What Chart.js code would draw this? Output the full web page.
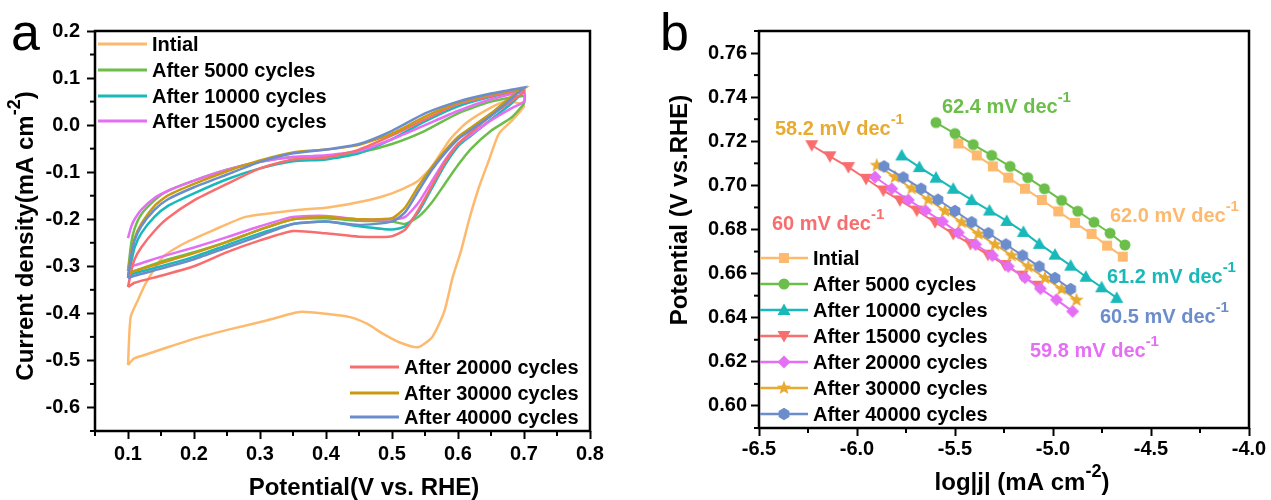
<!DOCTYPE html>
<html>
<head>
<meta charset="utf-8">
<script src="https://cdn.jsdelivr.net/npm/chart.js@4.4.1/dist/chart.umd.min.js"></script>
<style>
  body { margin: 0; background: #fff; }
  #wrap { position: relative; width: 1271px; height: 500px; overflow: hidden; }
  canvas { position: absolute; top: 0; }
  #cvChart { left: 0; }
  #tafelChart { left: 635px; }
</style>
</head>
<body>
<div id="wrap">
  <canvas id="cvChart" width="635" height="500"></canvas>
  <canvas id="tafelChart" width="636" height="500"></canvas>
</div>
<script>
// ---- data ----
const seriesLabels = ['Intial', 'After 5000 cycles', 'After 10000 cycles', 'After 15000 cycles',
    'After 20000 cycles', 'After 30000 cycles', 'After 40000 cycles'];

// panel a: tick labels
const aXTicks = [0.1, 0.2, 0.3, 0.4, 0.5, 0.6, 0.7, 0.8];
const aXMinor = [0.05, 0.15, 0.25, 0.35, 0.45, 0.55, 0.65, 0.75];
const aYTicks = [0.2, 0.1, 0.0, -0.1, -0.2, -0.3, -0.4, -0.5, -0.6];
const aYMinor = [0.15, 0.05, -0.05, -0.15, -0.25, -0.35, -0.45, -0.55, -0.65];

// panel a: CV curves (potential V, current mA cm-2)
const cvInitialV = [0.1, 0.109, 0.124, 0.16, 0.21, 0.26, 0.31, 0.36, 0.40, 0.436, 0.462, 0.486, 0.512, 0.539,
    0.561, 0.579, 0.592, 0.605, 0.617, 0.632, 0.647, 0.662, 0.682, 0.7, 0.697, 0.672, 0.647, 0.612, 0.587,
    0.56, 0.537, 0.5, 0.462, 0.403, 0.36, 0.328, 0.278, 0.228, 0.187, 0.153, 0.127, 0.115, 0.104, 0.1];
const cvInitialI = [-0.51, -0.496, -0.489, -0.472, -0.45, -0.432, -0.415, -0.397, -0.401, -0.408, -0.422, -0.443,
    -0.462, -0.472, -0.45, -0.397, -0.323, -0.265, -0.2, -0.131, -0.074, -0.018, 0.01, 0.04, 0.045, 0.05, 0.035,
    0.004, -0.032, -0.089, -0.121, -0.145, -0.16, -0.175, -0.18, -0.185, -0.195, -0.224, -0.25, -0.28, -0.336,
    -0.372, -0.408, -0.51];

const cvUpperV = [0.1, 0.105, 0.11, 0.12, 0.14, 0.16, 0.2, 0.25, 0.3, 0.35, 0.4, 0.45, 0.5, 0.55, 0.6, 0.65, 0.7];
const cvLowerV = [0.7, 0.68, 0.65, 0.62, 0.6, 0.58, 0.56, 0.54, 0.52, 0.5, 0.45, 0.4, 0.35, 0.3, 0.25, 0.2, 0.15, 0.11, 0.1];

const cv5000Up = [-0.31, -0.25, -0.22, -0.19, -0.16, -0.14, -0.118, -0.095, -0.078, -0.068, -0.066, -0.058, -0.04, -0.012, 0.025, 0.05, 0.062];
const cv5000Down = [0.046, 0.015, -0.012, -0.05, -0.085, -0.125, -0.165, -0.195, -0.21, -0.205, -0.203, -0.198, -0.2, -0.222, -0.248, -0.27, -0.29, -0.31, -0.315];
const cv10000Up = [-0.32, -0.29, -0.26, -0.23, -0.195, -0.172, -0.145, -0.115, -0.092, -0.077, -0.073, -0.06, -0.03, 0.008, 0.04, 0.06, 0.075];
const cv10000Down = [0.072, 0.045, 0.012, -0.022, -0.045, -0.085, -0.135, -0.185, -0.215, -0.222, -0.215, -0.205, -0.21, -0.23, -0.255, -0.28, -0.3, -0.315, -0.32];
const cv15000Up = [-0.24, -0.215, -0.2, -0.18, -0.155, -0.14, -0.118, -0.095, -0.078, -0.068, -0.064, -0.055, -0.03, 0.0, 0.03, 0.055, 0.07];
const cv15000Down = [0.05, 0.035, 0.01, -0.02, -0.04, -0.075, -0.12, -0.165, -0.195, -0.2, -0.2, -0.193, -0.195, -0.215, -0.238, -0.26, -0.28, -0.298, -0.3];
const cv20000Up = [-0.344, -0.31, -0.285, -0.26, -0.225, -0.198, -0.16, -0.125, -0.092, -0.073, -0.069, -0.052, -0.022, 0.012, 0.045, 0.062, 0.075];
const cv20000Down = [0.07, 0.05, 0.02, -0.015, -0.04, -0.08, -0.13, -0.18, -0.222, -0.236, -0.237, -0.23, -0.225, -0.245, -0.27, -0.3, -0.32, -0.335, -0.344];
const cv30000Up = [-0.31, -0.27, -0.24, -0.21, -0.172, -0.15, -0.125, -0.098, -0.075, -0.058, -0.052, -0.042, -0.018, 0.018, 0.048, 0.065, 0.078];
const cv30000Down = [0.078, 0.06, 0.025, -0.005, -0.025, -0.055, -0.09, -0.13, -0.175, -0.198, -0.2, -0.195, -0.2, -0.222, -0.248, -0.272, -0.293, -0.31, -0.315];
const cv40000Up = [-0.325, -0.275, -0.245, -0.215, -0.18, -0.158, -0.132, -0.105, -0.078, -0.06, -0.052, -0.04, -0.012, 0.025, 0.05, 0.067, 0.08];
const cv40000Down = [0.08, 0.055, 0.02, -0.01, -0.03, -0.06, -0.096, -0.14, -0.185, -0.205, -0.212, -0.205, -0.21, -0.235, -0.26, -0.285, -0.305, -0.32, -0.325];

// panel b: tick labels
const bXTicks = [-6.5, -6.0, -5.5, -5.0, -4.5, -4.0];
const bXMinor = [-6.25, -5.75, -5.25, -4.75, -4.25];
const bYTicks = [0.60, 0.62, 0.64, 0.66, 0.68, 0.70, 0.72, 0.74, 0.76];
const bYMinor = [0.59, 0.61, 0.63, 0.65, 0.67, 0.69, 0.71, 0.73, 0.75, 0.77];

// panel b: Tafel plots (log|j|, potential V)
const tafelInitialX = [-5.483, -5.389, -5.307, -5.228, -5.143, -5.057, -4.973, -4.888, -4.803, -4.724, -4.644];
const tafelInitialY = [0.7190, 0.7136, 0.7086, 0.7035, 0.6985, 0.6934, 0.6882, 0.6830, 0.6780, 0.6727, 0.6677];
const tafel5000X = [-5.597, -5.500, -5.407, -5.313, -5.219, -5.129, -5.044, -4.956, -4.874, -4.791, -4.709, -4.633];
const tafel5000Y = [0.7285, 0.7235, 0.7185, 0.7136, 0.7086, 0.7035, 0.6985, 0.6932, 0.6883, 0.6833, 0.6783, 0.6730];
const tafel10000X = [-5.772, -5.682, -5.597, -5.509, -5.415, -5.324, -5.236, -5.151, -5.070, -4.990, -4.910, -4.832, -4.752, -4.675];
const tafel10000Y = [0.7136, 0.7083, 0.7035, 0.6985, 0.6934, 0.6886, 0.6839, 0.6789, 0.6735, 0.6686, 0.6636, 0.6586, 0.6538, 0.6490];
const tafel15000X = [-6.231, -6.138, -6.044, -5.954, -5.866, -5.781, -5.695, -5.602, -5.509, -5.421, -5.332, -5.245, -5.158, -5.077];
const tafel15000Y = [0.7182, 0.7132, 0.7083, 0.7030, 0.6977, 0.6932, 0.6886, 0.6833, 0.6780, 0.6734, 0.6686, 0.6639, 0.6591, 0.6545];
const tafel20000X = [-5.908, -5.823, -5.738, -5.651, -5.564, -5.483, -5.395, -5.309, -5.228, -5.143, -5.064, -4.982, -4.900];
const tafel20000Y = [0.7038, 0.6985, 0.6934, 0.6886, 0.6836, 0.6786, 0.6732, 0.6682, 0.6633, 0.6582, 0.6532, 0.6482, 0.6429];
const tafel30000X = [-5.899, -5.806, -5.721, -5.636, -5.551, -5.466, -5.381, -5.296, -5.211, -5.126, -5.041, -4.956, -4.880];
const tafel30000Y = [0.7091, 0.7038, 0.6986, 0.6936, 0.6884, 0.6833, 0.6780, 0.6732, 0.6682, 0.6632, 0.6580, 0.6530, 0.6480];
const tafel40000X = [-5.862, -5.764, -5.673, -5.587, -5.500, -5.415, -5.330, -5.240, -5.155, -5.070, -4.990, -4.910];
const tafel40000Y = [0.7086, 0.7036, 0.6985, 0.6935, 0.6884, 0.6833, 0.6783, 0.6732, 0.6682, 0.6632, 0.6580, 0.6530];

const tafelSlopes = ['62.0', '62.4', '61.2', '60', '59.8', '58.2', '60.5'];

// ---- styles ----
const FONT = '"Liberation Sans", Arial, sans-serif';
const colorsA = ['#FDBA6E', '#6BBE4A', '#19B9BA', '#E46EF4', '#F86E6E', '#C99A0E', '#6C8DCB'];
const colorsB = ['#FDBA6E', '#6BBE4A', '#19B9BA', '#F86E6E', '#E46EF4', '#E8AA30', '#6C8DCB'];
const markerShapes = ['square', 'circle', 'triUp', 'triDown', 'diamond', 'star', 'hex'];

function toXY(xs, ys) {
    return xs.map((x, i) => ({ x: x, y: ys[i] }));
}

function loop(up, down) {
    return toXY(cvUpperV, up).concat(toXY(cvLowerV, down));
}

function makeMarker(shape, color) {
    const c = document.createElement('canvas');
    c.width = 18; c.height = 18;
    const g = c.getContext('2d');
    g.fillStyle = color;
    g.translate(9, 9);
    g.beginPath();
    if (shape === 'square') g.rect(-5, -5, 10, 10);
    else if (shape === 'circle') g.arc(0, 0, 5.5, 0, Math.PI * 2);
    else if (shape === 'triUp') { g.moveTo(0, -6.5); g.lineTo(6.5, 5); g.lineTo(-6.5, 5); }
    else if (shape === 'triDown') { g.moveTo(0, 6.5); g.lineTo(6.5, -5); g.lineTo(-6.5, -5); }
    else if (shape === 'diamond') { g.moveTo(0, -6.5); g.lineTo(6.5, 0); g.lineTo(0, 6.5); g.lineTo(-6.5, 0); }
    else if (shape === 'star') {
        for (let k = 0; k < 10; k++) {
            const r = k % 2 ? 3.2 : 7.5;
            const a = -Math.PI / 2 + k * Math.PI / 5;
            g.lineTo(r * Math.cos(a), r * Math.sin(a));
        }
    } else if (shape === 'hex') {
        for (let k = 0; k < 6; k++) {
            const a = Math.PI / 6 + k * Math.PI / 3;
            g.lineTo(6.2 * Math.cos(a), 6.2 * Math.sin(a));
        }
    }
    g.closePath();
    g.fill();
    return c;
}
const markers = markerShapes.map((s, i) => makeMarker(s, colorsB[i]));

// text with superscripts, parts = [[text, isSup], ...]
function richText(ctx, parts, x, y, size, color, align) {
    const main = 'bold ' + size + 'px ' + FONT;
    const sup = 'bold ' + Math.round(size * 0.76) + 'px ' + FONT;
    let w = 0;
    parts.forEach(p => { ctx.font = p[1] ? sup : main; w += ctx.measureText(p[0]).width; });
    let cx = align === 'center' ? x - w / 2 : x;
    ctx.fillStyle = color;
    ctx.textAlign = 'left';
    ctx.textBaseline = 'alphabetic';
    parts.forEach(p => {
        ctx.font = p[1] ? sup : main;
        ctx.fillText(p[0], cx, p[1] ? y - size * 0.55 : y);
        cx += ctx.measureText(p[0]).width;
    });
}

function frameAndMinor(chart, xMinor, yMinor) {
    const ctx = chart.ctx;
    const a = chart.chartArea;
    ctx.save();
    ctx.strokeStyle = '#000';
    ctx.lineWidth = 2;
    xMinor.forEach(v => {
        const px = chart.scales.x.getPixelForValue(v);
        ctx.beginPath(); ctx.moveTo(px, a.bottom); ctx.lineTo(px, a.bottom + 5); ctx.stroke();
    });
    yMinor.forEach(v => {
        const py = chart.scales.y.getPixelForValue(v);
        ctx.beginPath(); ctx.moveTo(a.left, py); ctx.lineTo(a.left - 5, py); ctx.stroke();
    });
    ctx.lineWidth = 2.5;
    ctx.strokeRect(a.left, a.top, a.right - a.left, a.bottom - a.top);
    ctx.restore();
}

function scaleOpts(min, max, ticks, digits, pad, size) {
    return {
        type: 'linear', min: min, max: max,
        afterBuildTicks: s => { s.ticks = ticks.map(v => ({ value: v })); },
        afterFit: s => { if (s.isHorizontal()) s.height = size; else s.width = size; },
        ticks: { callback: v => v.toFixed(digits), color: '#000', padding: pad,
                 font: { family: FONT, size: 20, weight: 'bold' }, maxRotation: 0 },
        grid: { drawOnChartArea: false, drawTicks: true, tickLength: 8, tickWidth: 2, tickColor: '#000' },
        border: { display: false }
    };
}

// ---- panel a ----
const cvData = [toXY(cvInitialV, cvInitialI), loop(cv5000Up, cv5000Down), loop(cv10000Up, cv10000Down),
    loop(cv15000Up, cv15000Down), loop(cv20000Up, cv20000Down), loop(cv30000Up, cv30000Down),
    loop(cv40000Up, cv40000Down)];

const cvExtras = {
    id: 'cvExtras',
    afterDraw(chart) {
        const ctx = chart.ctx;
        frameAndMinor(chart, aXMinor, aYMinor);
        ctx.save();
        // legends
        const rows = [[0, 44], [1, 70], [2, 96], [3, 121]];
        const rows2 = [[4, 367], [5, 393], [6, 417]];
        [[rows, 98], [rows2, 350]].forEach(([list, x0]) => {
            list.forEach(([i, y]) => {
                ctx.strokeStyle = colorsA[i]; ctx.lineWidth = 3;
                ctx.beginPath(); ctx.moveTo(x0, y); ctx.lineTo(x0 + 49, y); ctx.stroke();
                ctx.fillStyle = '#000'; ctx.font = 'bold 20px ' + FONT;
                ctx.textAlign = 'left'; ctx.textBaseline = 'middle';
                ctx.fillText(seriesLabels[i], x0 + 54, y + 1);
            });
        });
        // axis titles
        richText(ctx, [['Potential(V vs. RHE)', false]], 364, 495, 24, '#000', 'center');
        ctx.translate(33, 236);
        ctx.rotate(-Math.PI / 2);
        richText(ctx, [['Current density(mA cm', false], ['-2', true], [')', false]], 0, 0, 24, '#000', 'center');
        ctx.restore();
        ctx.save();
        ctx.fillStyle = '#000'; ctx.font = '52px ' + FONT;
        ctx.textAlign = 'left'; ctx.textBaseline = 'alphabetic';
        ctx.fillText('a', 11, 50);
        ctx.restore();
    }
};

new Chart(document.getElementById('cvChart'), {
    type: 'scatter',
    data: {
        datasets: cvData.map((d, i) => ({
            label: seriesLabels[i], data: d, showLine: true, pointRadius: 0,
            borderColor: colorsA[i], borderWidth: 2.5, tension: 0.2, order: 7 - i
        }))
    },
    options: {
        responsive: false, animation: false, events: [],
        layout: { padding: { left: 0, top: 31, right: 45, bottom: 0 } },
        plugins: { legend: { display: false }, tooltip: { enabled: false } },
        scales: {
            x: scaleOpts(0.05, 0.8, aXTicks, 1, 3, 69),
            y: scaleOpts(-0.65, 0.2, aYTicks, 1, 7, 95)
        }
    },
    plugins: [cvExtras]
});

// ---- panel b ----
const tafelData = [toXY(tafelInitialX, tafelInitialY), toXY(tafel5000X, tafel5000Y), toXY(tafel10000X, tafel10000Y),
    toXY(tafel15000X, tafel15000Y), toXY(tafel20000X, tafel20000Y), toXY(tafel30000X, tafel30000Y),
    toXY(tafel40000X, tafel40000Y)];

// slope label anchors in canvas pixels (left, baseline)
const slopeSpots = [[475, 222], [307, 113], [472, 283], [137, 230], [395, 357], [140, 135], [465, 323]];

const tafelExtras = {
    id: 'tafelExtras',
    afterDraw(chart) {
        const ctx = chart.ctx;
        frameAndMinor(chart, bXMinor, bYMinor);
        ctx.save();
        slopeSpots.forEach(([x, y], i) => {
            richText(ctx, [[tafelSlopes[i] + ' mV dec', false], ['-1', true]], x, y, 20, colorsB[i], 'left');
        });
        seriesLabels.forEach((lab, i) => {
            const y = 258 + i * 26;
            ctx.strokeStyle = colorsB[i]; ctx.lineWidth = 2.5;
            ctx.beginPath(); ctx.moveTo(125, y); ctx.lineTo(173, y); ctx.stroke();
            ctx.drawImage(markers[i], 149 - 9, y - 9);
            ctx.fillStyle = '#000'; ctx.font = 'bold 20px ' + FONT;
            ctx.textAlign = 'left'; ctx.textBaseline = 'middle';
            ctx.fillText(lab, 178, y + 1);
        });
        richText(ctx, [['log|j| (mA cm', false], ['-2', true], [')', false]], 387, 490, 24, '#000', 'center');
        ctx.translate(52, 210);
        ctx.rotate(-Math.PI / 2);
        richText(ctx, [['Potential (V vs.RHE)', false]], 0, 0, 24, '#000', 'center');
        ctx.restore();
        ctx.save();
        ctx.fillStyle = '#000'; ctx.font = '52px ' + FONT;
        ctx.textAlign = 'left'; ctx.textBaseline = 'alphabetic';
        ctx.fillText('b', 25, 50);
        ctx.restore();
    }
};

new Chart(document.getElementById('tafelChart'), {
    type: 'scatter',
    data: {
        datasets: tafelData.map((d, i) => ({
            label: seriesLabels[i], data: d, showLine: true,
            borderColor: colorsB[i], backgroundColor: colorsB[i], borderWidth: 2,
            pointStyle: markers[i], pointRadius: 6, tension: 0, order: 7 - i
        }))
    },
    options: {
        responsive: false, animation: false, events: [],
        layout: { padding: { left: 0, top: 31, right: 22, bottom: 0 } },
        plugins: { legend: { display: false }, tooltip: { enabled: false } },
        scales: {
            x: scaleOpts(-6.5, -4.0, bXTicks, 1, 1, 72),
            y: scaleOpts(0.59, 0.77, bYTicks, 2, 4, 124)
        }
    },
    plugins: [tafelExtras]
});
</script>
</body>
</html>
